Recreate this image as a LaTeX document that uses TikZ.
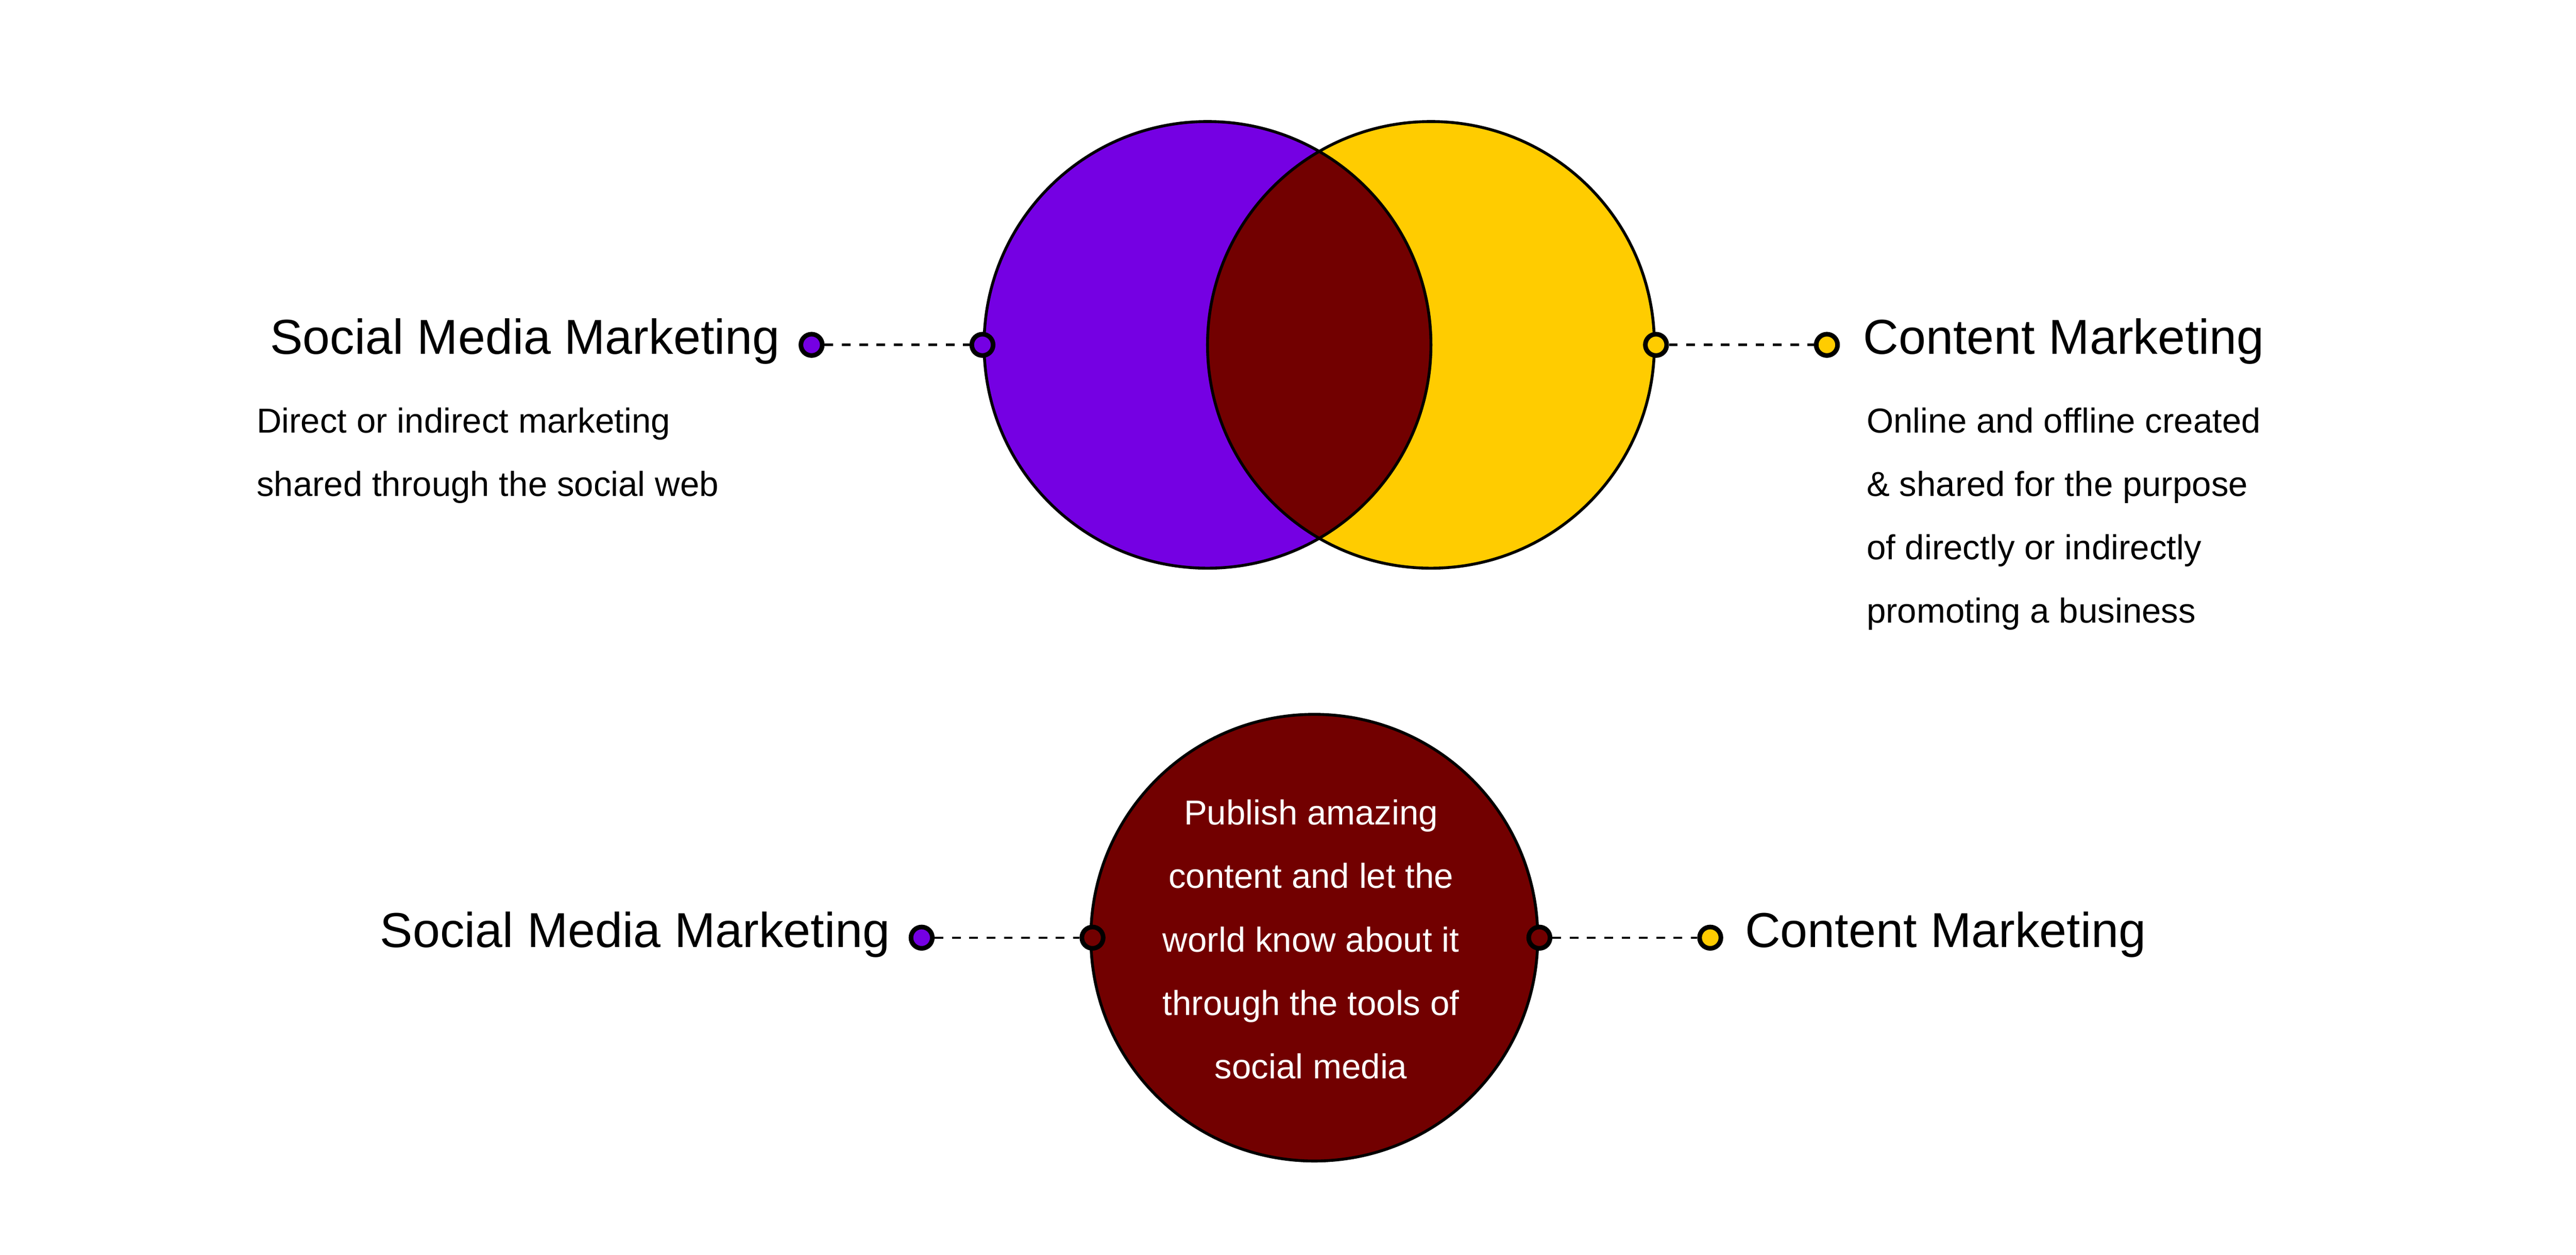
\documentclass[tikz,border=0pt]{standalone}
\usepackage{fontspec}
\setmainfont{Liberation Sans}
\definecolor{pur}{HTML}{7500E3}
\definecolor{yel}{HTML}{FFCC00}
\definecolor{dred}{HTML}{720000}
\begin{document}
\begin{tikzpicture}[x=0.02cm,y=-0.02cm,
  dot/.style={circle,draw=black,line width=1.6pt,minimum size=0.26cm,inner sep=0pt},
  conn/.style={dashed,line width=0.8pt},
  title/.style={font=\fontsize{17}{20}\selectfont},
  desc/.style={font=\fontsize{12}{22}\selectfont,align=left}]
\useasboundingbox (0,0) rectangle (1568,764);
% top venn
\fill[pur] (735,210) circle (136);
\fill[yel] (871,210) circle (136);
\begin{scope}
\clip (735,210) circle (136);
\fill[dred] (871,210) circle (136);
\end{scope}
\draw[line width=1pt] (735,210) circle (136);
\draw[line width=1pt] (871,210) circle (136);
\node[dot,fill=pur] (a1) at (494,210) {};
\node[dot,fill=pur] (a2) at (598,210) {};
\node[dot,fill=yel] (b1) at (1008,210) {};
\node[dot,fill=yel] (b2) at (1112,210) {};
\draw[conn] (a1) -- (a2);
\draw[conn] (b1) -- (b2);
\node[title,anchor=east] (t1) at (481,208) {Social Media Marketing};
\node[title,anchor=west] (t2) at (1128,208) {Content Marketing};
\node[desc,anchor=north west] (d1) at (150,242) {Direct or indirect marketing\\shared through the social web};
\node[desc,anchor=north west] (d2) at (1130,242) {Online and offline created\\\& shared for the purpose\\of directly or indirectly\\promoting a business};
% bottom
\node[circle,draw=black,line width=1pt,fill=dred,minimum size=2*136*0.02cm,inner sep=0pt] (c) at (800,571) {};
\node[font=\fontsize{12}{22}\selectfont,text=white,align=center] (ct) at (798,572) {Publish amazing\\content and let the\\world know about it\\through the tools of\\social media};
\node[dot,fill=pur] (e1) at (561,571) {};
\node[dot,fill=dred] (e2) at (665,571) {};
\node[dot,fill=dred] (f1) at (937,571) {};
\node[dot,fill=yel] (f2) at (1041,571) {};
\draw[conn] (e1) -- (e2);
\draw[conn] (f1) -- (f2);
\node[title,anchor=east] (t3) at (548,569) {Social Media Marketing};
\node[title,anchor=west] (t4) at (1056,569) {Content Marketing};
\end{tikzpicture}
\end{document}
